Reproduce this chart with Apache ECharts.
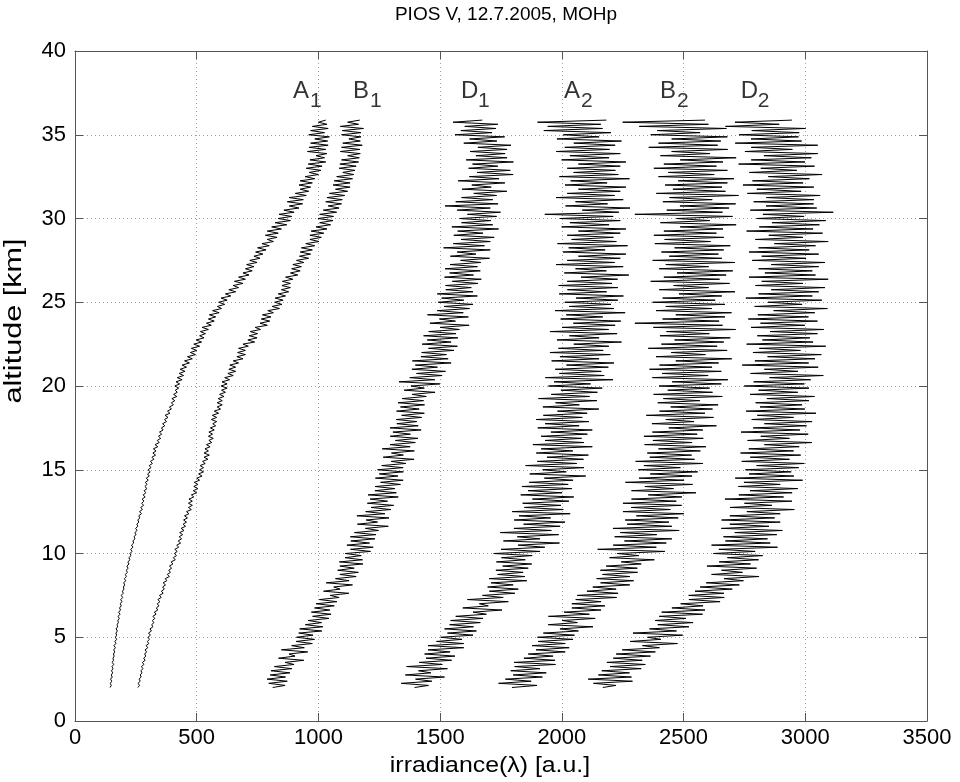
<!DOCTYPE html>
<html>
<head>
<meta charset="utf-8">
<title>PIOS V, 12.7.2005, MOHp</title>
<script src="https://cdn.jsdelivr.net/npm/echarts@6/dist/echarts.min.js"></script>
<style>
  html, body { margin: 0; padding: 0; background: #fff; }
  #chart { width: 960px; height: 782px; }
</style>
</head>
<body>
<div id="chart"></div>
<script>
(function() {
// altitude samples [km], 8 per km
const alt = [
  2, 2.125, 2.25, 2.375, 2.5, 2.625, 2.75, 2.875,
  3, 3.125, 3.25, 3.375, 3.5, 3.625, 3.75, 3.875,
  4, 4.125, 4.25, 4.375, 4.5, 4.625, 4.75, 4.875,
  5, 5.125, 5.25, 5.375, 5.5, 5.625, 5.75, 5.875,
  6, 6.125, 6.25, 6.375, 6.5, 6.625, 6.75, 6.875,
  7, 7.125, 7.25, 7.375, 7.5, 7.625, 7.75, 7.875,
  8, 8.125, 8.25, 8.375, 8.5, 8.625, 8.75, 8.875,
  9, 9.125, 9.25, 9.375, 9.5, 9.625, 9.75, 9.875,
  10, 10.125, 10.25, 10.375, 10.5, 10.625, 10.75, 10.875,
  11, 11.125, 11.25, 11.375, 11.5, 11.625, 11.75, 11.875,
  12, 12.125, 12.25, 12.375, 12.5, 12.625, 12.75, 12.875,
  13, 13.125, 13.25, 13.375, 13.5, 13.625, 13.75, 13.875,
  14, 14.125, 14.25, 14.375, 14.5, 14.625, 14.75, 14.875,
  15, 15.125, 15.25, 15.375, 15.5, 15.625, 15.75, 15.875,
  16, 16.125, 16.25, 16.375, 16.5, 16.625, 16.75, 16.875,
  17, 17.125, 17.25, 17.375, 17.5, 17.625, 17.75, 17.875,
  18, 18.125, 18.25, 18.375, 18.5, 18.625, 18.75, 18.875,
  19, 19.125, 19.25, 19.375, 19.5, 19.625, 19.75, 19.875,
  20, 20.125, 20.25, 20.375, 20.5, 20.625, 20.75, 20.875,
  21, 21.125, 21.25, 21.375, 21.5, 21.625, 21.75, 21.875,
  22, 22.125, 22.25, 22.375, 22.5, 22.625, 22.75, 22.875,
  23, 23.125, 23.25, 23.375, 23.5, 23.625, 23.75, 23.875,
  24, 24.125, 24.25, 24.375, 24.5, 24.625, 24.75, 24.875,
  25, 25.125, 25.25, 25.375, 25.5, 25.625, 25.75, 25.875,
  26, 26.125, 26.25, 26.375, 26.5, 26.625, 26.75, 26.875,
  27, 27.125, 27.25, 27.375, 27.5, 27.625, 27.75, 27.875,
  28, 28.125, 28.25, 28.375, 28.5, 28.625, 28.75, 28.875,
  29, 29.125, 29.25, 29.375, 29.5, 29.625, 29.75, 29.875,
  30, 30.125, 30.25, 30.375, 30.5, 30.625, 30.75, 30.875,
  31, 31.125, 31.25, 31.375, 31.5, 31.625, 31.75, 31.875,
  32, 32.125, 32.25, 32.375, 32.5, 32.625, 32.75, 32.875,
  33, 33.125, 33.25, 33.375, 33.5, 33.625, 33.75, 33.875,
  34, 34.125, 34.25, 34.375, 34.5, 34.625, 34.75, 34.875,
  35, 35.125, 35.25, 35.375, 35.5, 35.625, 35.75, 35.875
];

// irradiance [a.u.] per altitude sample, one array per channel
const irrA1 = [
  144, 149, 145, 151, 146, 153, 149, 155,
  150, 156, 152, 159, 153, 158, 156, 161,
  158, 163, 159, 166, 160, 168, 164, 171,
  166, 171, 168, 174, 169, 175, 173, 178,
  176, 182, 177, 185, 179, 187, 183, 190,
  186, 193, 188, 196, 190, 198, 195, 201,
  199, 204, 200, 208, 203, 211, 207, 215,
  211, 218, 213, 222, 217, 226, 221, 230,
  226, 234, 229, 238, 232, 241, 238, 246,
  243, 250, 246, 255, 249, 258, 254, 262,
  258, 266, 262, 273, 265, 277, 270, 282,
  274, 283, 276, 288, 280, 291, 284, 296,
  287, 296, 289, 301, 293, 305, 298, 309,
  300, 312, 305, 318, 310, 324, 316, 331,
  320, 333, 322, 340, 329, 346, 338, 352,
  343, 356, 347, 362, 355, 369, 360, 376,
  368, 382, 370, 390, 380, 396, 388, 404,
  396, 410, 398, 418, 405, 420, 412, 426,
  410, 430, 415, 440, 420, 446, 428, 452,
  432, 458, 440, 470, 450, 482, 462, 495,
  474, 500, 478, 512, 488, 520, 498, 530,
  512, 536, 515, 548, 522, 560, 540, 572,
  548, 578, 552, 592, 565, 602, 585, 615,
  590, 625, 600, 640, 618, 660, 632, 672,
  650, 690, 655, 700, 672, 715, 690, 728,
  700, 735, 705, 748, 718, 760, 735, 772,
  742, 785, 750, 798, 768, 815, 790, 830,
  782, 835, 790, 848, 808, 870, 822, 885,
  835, 890, 838, 900, 858, 920, 880, 935,
  872, 938, 880, 950, 905, 960, 925, 968,
  920, 975, 925, 985, 945, 1000, 962, 1010,
  950, 1015, 958, 1030, 965, 1025, 990, 1035,
  955, 1030, 962, 1040, 968, 1038, 985, 1045,
  960, 1025, 968, 1040, 975, 1035, 1000, 1030
];
const irrB1 = [
  258, 265, 259, 268, 263, 272, 268, 275,
  271, 279, 273, 283, 277, 288, 282, 291,
  286, 294, 288, 299, 292, 303, 297, 306,
  300, 310, 302, 314, 308, 320, 315, 324,
  318, 328, 320, 333, 326, 340, 334, 345,
  338, 349, 340, 354, 347, 362, 355, 367,
  360, 372, 362, 377, 371, 388, 379, 392,
  385, 397, 388, 402, 395, 412, 404, 417,
  408, 420, 410, 426, 418, 434, 424, 438,
  428, 442, 430, 448, 436, 454, 444, 458,
  446, 462, 450, 468, 458, 478, 466, 482,
  466, 482, 468, 488, 478, 500, 486, 505,
  488, 505, 490, 512, 500, 522, 508, 528,
  512, 528, 514, 535, 524, 546, 530, 552,
  530, 548, 534, 555, 540, 562, 550, 568,
  548, 565, 550, 572, 556, 578, 566, 582,
  560, 582, 564, 590, 572, 598, 584, 605,
  584, 605, 588, 612, 594, 618, 602, 625,
  600, 625, 604, 635, 615, 650, 628, 660,
  632, 660, 636, 672, 650, 690, 665, 700,
  668, 700, 672, 712, 690, 738, 710, 748,
  716, 750, 720, 762, 740, 790, 760, 800,
  765, 805, 770, 815, 792, 840, 810, 850,
  820, 855, 822, 865, 835, 878, 848, 885,
  850, 885, 852, 895, 865, 915, 885, 925,
  890, 930, 895, 940, 910, 960, 922, 968,
  925, 975, 930, 985, 948, 1002, 965, 1012,
  965, 1022, 970, 1035, 990, 1050, 1005, 1060,
  998, 1062, 1005, 1075, 1020, 1085, 1040, 1095,
  1030, 1098, 1035, 1108, 1045, 1120, 1070, 1130,
  1060, 1130, 1065, 1140, 1075, 1145, 1100, 1150,
  1085, 1155, 1088, 1165, 1095, 1168, 1120, 1172,
  1090, 1170, 1095, 1180, 1100, 1172, 1125, 1175,
  1095, 1175, 1098, 1185, 1090, 1165, 1120, 1170
];
const irrD1 = [
  812, 863, 796, 872, 789, 865, 802, 883,
  805, 891, 819, 900, 863, 940, 836, 904,
  879, 956, 848, 942, 890, 975, 908, 984,
  910, 978, 919, 1014, 923, 1018, 946, 1013,
  958, 1043, 976, 1052, 971, 1047, 984, 1065,
  990, 1076, 1004, 1085, 1048, 1125, 1021, 1089,
  1063, 1140, 1032, 1126, 1070, 1155, 1088, 1164,
  1079, 1147, 1088, 1183, 1086, 1181, 1109, 1176,
  1110, 1214, 1132, 1225, 1117, 1210, 1133, 1232,
  1131, 1236, 1148, 1247, 1193, 1287, 1160, 1243,
  1196, 1290, 1158, 1273, 1194, 1298, 1216, 1309,
  1201, 1284, 1212, 1328, 1204, 1320, 1232, 1314,
  1233, 1337, 1255, 1348, 1234, 1327, 1250, 1349,
  1243, 1348, 1260, 1359, 1299, 1393, 1266, 1349,
  1300, 1394, 1262, 1377, 1294, 1398, 1316, 1409,
  1295, 1378, 1306, 1422, 1294, 1410, 1322, 1404,
  1320, 1424, 1342, 1435, 1321, 1414, 1337, 1436,
  1327, 1432, 1344, 1443, 1385, 1479, 1352, 1435,
  1380, 1499, 1331, 1478, 1375, 1508, 1403, 1522,
  1384, 1489, 1398, 1545, 1386, 1533, 1421, 1526,
  1424, 1557, 1452, 1571, 1426, 1545, 1447, 1573,
  1432, 1565, 1453, 1579, 1500, 1619, 1458, 1563,
  1497, 1616, 1448, 1595, 1488, 1621, 1516, 1635,
  1492, 1597, 1506, 1653, 1488, 1635, 1523, 1628,
  1522, 1655, 1550, 1669, 1518, 1637, 1539, 1665,
  1520, 1653, 1541, 1667, 1584, 1703, 1542, 1647,
  1570, 1706, 1514, 1682, 1554, 1706, 1586, 1722,
  1556, 1676, 1572, 1740, 1548, 1716, 1588, 1708,
  1580, 1732, 1612, 1748, 1570, 1706, 1520, 1738,
  1564, 1716, 1588, 1732, 1638, 1774, 1590, 1710,
  1630, 1766, 1574, 1742, 1620, 1800, 1652, 1788,
  1617, 1737, 1633, 1801, 1607, 1775, 1647, 1767,
  1623, 1775, 1655, 1791, 1597, 1733, 1621, 1765,
  1561, 1713, 1585, 1729, 1601, 1737, 1553, 1673
];
const irrA2 = [
  1395, 1452, 1340, 1466, 1399, 1518, 1357, 1462,
  1411, 1530, 1362, 1509, 1414, 1547, 1442, 1561,
  1436, 1541, 1450, 1597, 1450, 1597, 1485, 1590,
  1502, 1635, 1530, 1649, 1518, 1637, 1539, 1665,
  1543, 1676, 1564, 1690, 1635, 1754, 1593, 1698,
  1661, 1780, 1612, 1759, 1674, 1807, 1702, 1821,
  1695, 1800, 1709, 1856, 1701, 1848, 1736, 1841,
  1729, 1862, 1757, 1876, 1731, 1850, 1752, 1878,
  1720, 1910, 1750, 1930, 1820, 1990, 1760, 1910,
  1817, 1987, 1747, 1957, 1803, 1993, 1843, 2013,
  1804, 1954, 1824, 2034, 1796, 2006, 1846, 1996,
  1839, 2029, 1879, 2049, 1831, 2001, 1861, 2041,
  1836, 2026, 1866, 2046, 1928, 2098, 1868, 2018,
  1921, 2091, 1851, 2061, 1899, 2089, 1939, 2109,
  1895, 2045, 1915, 2125, 1881, 2091, 1931, 2081,
  1915, 2105, 1955, 2125, 1901, 2071, 1931, 2111,
  1894, 2084, 1924, 2104, 1982, 2152, 1922, 2072,
  1974, 2144, 1904, 2114, 1956, 2146, 1996, 2166,
  1945, 2118, 1968, 2210, 1932, 2174, 1990, 2162,
  1973, 2191, 2019, 2214, 1958, 2153, 1992, 2199,
  1951, 2170, 1986, 2193, 2049, 2245, 1980, 2153,
  2031, 2227, 1951, 2192, 2001, 2219, 2047, 2242,
  1995, 2168, 2018, 2260, 1972, 2214, 2030, 2202,
  2012, 2230, 2058, 2253, 1989, 2184, 2023, 2230,
  1987, 2206, 2022, 2229, 2079, 2275, 2010, 2183,
  2056, 2252, 1976, 2217, 2022, 2240, 2068, 2263,
  2005, 2178, 2028, 2270, 1982, 2224, 2040, 2212,
  2022, 2240, 2068, 2263, 1999, 2194, 2033, 2240,
  1992, 2211, 1930, 2234, 2084, 2280, 2015, 2188,
  2056, 2252, 1976, 2217, 2022, 2240, 2068, 2263,
  2013, 2186, 2036, 2278, 1990, 2232, 2048, 2220,
  2022, 2240, 2068, 2263, 1999, 2194, 2033, 2240,
  1977, 2196, 2012, 2219, 2049, 2245, 1980, 2153,
  2006, 2202, 1926, 2167, 1942, 2160, 1900, 2183
];
const irrB2 = [
  1795, 1898, 1740, 1874, 1768, 1920, 1800, 1936,
  1790, 1910, 1806, 1974, 1804, 1972, 1844, 1964,
  1862, 2014, 1894, 2030, 1878, 2014, 1902, 2046,
  1900, 2052, 1924, 2068, 1992, 2128, 1944, 2064,
  2001, 2137, 1945, 2113, 2009, 2161, 2041, 2177,
  2041, 2161, 2057, 2225, 2063, 2231, 2103, 2223,
  2127, 2279, 2159, 2295, 2143, 2279, 2167, 2311,
  2158, 2310, 2182, 2326, 2244, 2380, 2196, 2316,
  2227, 2423, 2147, 2388, 2211, 2429, 2257, 2452,
  2217, 2390, 2240, 2482, 2210, 2452, 2268, 2440,
  2260, 2478, 2306, 2501, 2251, 2446, 2285, 2492,
  2251, 2470, 2286, 2493, 2355, 2551, 2286, 2459,
  2341, 2537, 2261, 2502, 2317, 2535, 2363, 2558,
  2314, 2487, 2337, 2579, 2303, 2545, 2361, 2533,
  2351, 2569, 2397, 2592, 2340, 2535, 2374, 2581,
  2337, 2556, 2372, 2579, 2439, 2635, 2370, 2543,
  2427, 2623, 2347, 2588, 2401, 2619, 2447, 2642,
  2394, 2567, 2417, 2659, 2377, 2619, 2435, 2607,
  2399, 2655, 2453, 2682, 2372, 2601, 2412, 2655,
  2360, 2617, 2401, 2644, 2468, 2698, 2387, 2590,
  2449, 2679, 2355, 2638, 2409, 2665, 2463, 2692,
  2403, 2606, 2430, 2714, 2376, 2660, 2300, 2646,
  2414, 2670, 2468, 2697, 2387, 2616, 2427, 2670,
  2373, 2630, 2414, 2657, 2481, 2711, 2400, 2603,
  2459, 2689, 2365, 2648, 2419, 2675, 2473, 2702,
  2400, 2603, 2427, 2711, 2373, 2657, 2441, 2643,
  2409, 2665, 2463, 2692, 2382, 2611, 2422, 2665,
  2378, 2635, 2419, 2662, 2486, 2716, 2405, 2608,
  2471, 2701, 2300, 2660, 2431, 2687, 2485, 2714,
  2415, 2618, 2442, 2726, 2388, 2672, 2456, 2658,
  2424, 2680, 2478, 2707, 2397, 2626, 2437, 2680,
  2378, 2635, 2419, 2662, 2486, 2716, 2405, 2608,
  2451, 2681, 2357, 2640, 2397, 2653, 2451, 2680,
  2365, 2568, 2392, 2676, 2318, 2602, 2250, 2588
];
const irrD2 = [
  2168, 2222, 2130, 2290, 2108, 2286, 2150, 2278,
  2164, 2326, 2198, 2343, 2185, 2330, 2211, 2364,
  2223, 2384, 2248, 2401, 2331, 2475, 2280, 2407,
  2352, 2496, 2292, 2471, 2360, 2522, 2394, 2539,
  2383, 2510, 2400, 2578, 2410, 2588, 2452, 2580,
  2488, 2650, 2522, 2667, 2521, 2666, 2547, 2700,
  2568, 2729, 2593, 2746, 2666, 2810, 2615, 2742,
  2656, 2800, 2596, 2775, 2646, 2808, 2680, 2825,
  2622, 2794, 2645, 2886, 2615, 2856, 2672, 2845,
  2664, 2883, 2710, 2906, 2655, 2851, 2690, 2897,
  2656, 2874, 2690, 2897, 2760, 2955, 2691, 2863,
  2750, 2945, 2670, 2911, 2727, 2946, 2773, 2969,
  2725, 2897, 2748, 2989, 2712, 2953, 2769, 2942,
  2754, 2973, 2800, 2996, 2739, 2935, 2774, 2981,
  2734, 2952, 2768, 2975, 2832, 3027, 2763, 2935,
  2817, 3012, 2736, 2978, 2786, 3005, 2832, 3028,
  2780, 2952, 2803, 3044, 2757, 2998, 2814, 2987,
  2796, 3015, 2842, 3038, 2773, 2969, 2808, 3015,
  2749, 2996, 2788, 3022, 2853, 3074, 2775, 2970,
  2832, 3053, 2741, 3014, 2793, 3040, 2845, 3066,
  2785, 2980, 2811, 3084, 2759, 3032, 2824, 3019,
  2803, 3050, 2855, 3076, 2777, 2998, 2816, 3050,
  2766, 3013, 2805, 3039, 2870, 3091, 2792, 2987,
  2847, 3068, 2756, 3029, 2808, 3055, 2860, 3081,
  2795, 2990, 2821, 3094, 2769, 3042, 2834, 3029,
  2808, 3055, 2860, 3081, 2782, 3003, 2821, 3055,
  2769, 3016, 2808, 3042, 2873, 3094, 2795, 2990,
  2850, 3071, 2759, 3032, 2811, 3058, 2863, 3084,
  2800, 2995, 2826, 3115, 2774, 3047, 2839, 3034,
  2788, 3035, 2840, 3061, 2762, 2983, 2801, 3035,
  2744, 2991, 2783, 3017, 2848, 3069, 2770, 2965,
  2817, 3038, 2726, 2999, 2778, 3025, 2830, 3051,
  2752, 2947, 2778, 3051, 2712, 2985, 2777, 2972,
  2728, 2975, 2780, 3001, 2672, 2893, 2711, 2945
];

// curve labels: letter with subscript, anchored at top-left of the letter
const labelLetters = ['A', 'B', 'D', 'A', 'B', 'D'];
const labelSubs = ['1', '1', '1', '2', '2', '2'];
const labelX = [896, 1142, 1586, 2009, 2403, 2735];
const labelY = [38.3, 38.3, 38.3, 38.3, 38.3, 38.3];

const FONT = '"Liberation Sans", Arial, Helvetica, sans-serif';
const AXIS = '#555';

const chart = echarts.init(document.getElementById('chart'));

// ── curves ──
const curves = [irrA1, irrB1, irrD1, irrA2, irrB2, irrD2];
const series = curves.map(vals => ({
  type: 'line',
  data: vals.map((v, i) => [v, alt[i]]),
  symbol: 'none',
  lineStyle: { color: '#000', width: 1 },
  z: 3
}));

// ── labels: letter layer + subscript layer ──
const labelPts = labelX.map((x, i) => [x, labelY[i]]);
series.push({
  type: 'scatter', symbolSize: 0, data: labelPts, z: 4,
  label: {
    show: true, position: [0, 0], align: 'left', verticalAlign: 'top',
    formatter: p => labelLetters[p.dataIndex],
    fontFamily: FONT, fontSize: 24, color: '#000', lineHeight: 24
  }
});
series.push({
  type: 'scatter', symbolSize: 0, data: labelPts, z: 4,
  label: {
    show: true, position: [0, 0], align: 'left', verticalAlign: 'top',
    offset: [17, 11],
    formatter: p => labelSubs[p.dataIndex],
    fontFamily: FONT, fontSize: 21, color: '#000', lineHeight: 21
  }
});

const tickLabel = { color: '#000', fontSize: 22, fontFamily: FONT, formatter: v => String(v) };
const gridLine = { color: '#a0a0a0', type: [1, 3], width: 1 };
const box = {
  axisLine: { show: true, onZero: false, lineStyle: { color: AXIS } },
  axisTick: { show: true, inside: true, length: 8, lineStyle: { color: AXIS } }
};

chart.setOption({
  animation: false,
  title: {
    text: 'PIOS V, 12.7.2005, MOHp',
    left: 501, top: 0, textAlign: 'center',
    textStyle: { fontFamily: FONT, fontSize: 19, fontWeight: 'normal', color: '#000' }
  },
  grid: { left: 75, right: 33, top: 51, bottom: 61 },
  xAxis: [
    Object.assign({ type: 'value', min: 0, max: 3500, interval: 500, position: 'bottom',
      axisLabel: Object.assign({ margin: 6 }, tickLabel),
      splitLine: { show: true, lineStyle: gridLine } }, box),
    Object.assign({ type: 'value', min: 0, max: 3500, interval: 500, position: 'top',
      axisLabel: { show: false }, splitLine: { show: false } }, box)
  ],
  yAxis: [
    Object.assign({ type: 'value', min: 0, max: 40, interval: 5, position: 'left',
      axisLabel: Object.assign({ margin: 9 }, tickLabel),
      splitLine: { show: true, lineStyle: gridLine } }, box),
    Object.assign({ type: 'value', min: 0, max: 40, interval: 5, position: 'right',
      axisLabel: { show: false }, splitLine: { show: false } }, box)
  ],
  // axis titles, slightly widened like the source figure's lettering
  graphic: [
    { type: 'text', x: 490, y: 766, scaleX: 1.13,
      style: { text: 'irradiance(λ) [a.u.]', fontFamily: FONT, fontSize: 22, fill: '#000',
               align: 'center', verticalAlign: 'middle' } },
    { type: 'text', x: 15, y: 321, rotation: Math.PI / 2, scaleX: 1.33,
      style: { text: 'altitude [km]', fontFamily: FONT, fontSize: 23, fill: '#000',
               align: 'center', verticalAlign: 'middle' } }
  ],
  series: series
});

window.addEventListener('resize', () => chart.resize());
})();
</script>
</body>
</html>
